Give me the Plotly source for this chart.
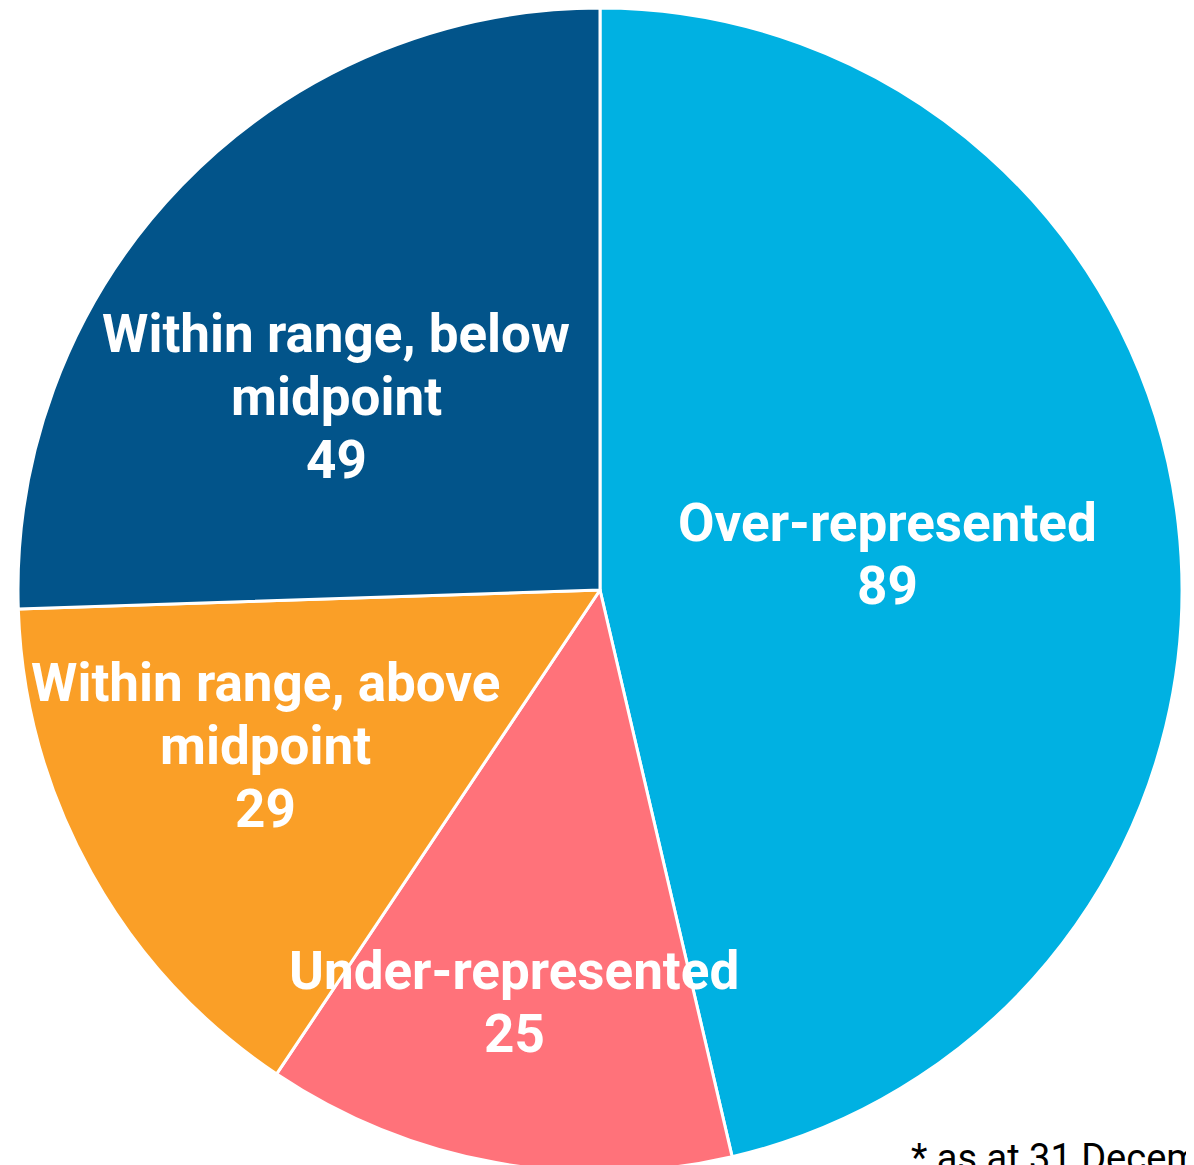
import math
import plotly.graph_objects as go

categories = ["Over-represented", "Under-represented", "Within range, above<br>midpoint", "Within range, below<br>midpoint"]
values = [89, 25, 29, 49]
colors = ["#00B1E2", "#FF727A", "#FA9F27", "#02548A"]
footnote = "* as at 31 December"

# label placement (style): radial fraction and angular offset (deg)
label_r = [0.497, 0.727, 0.635, 0.559]
label_dtheta = [0.0, 1.4, 3.8, -8.2]
LINE_GAP = 63
FONT = 53

W, H = 1194, 1165
R = 582
CX, CY = 592, 582  # paper px (page body has 8px margin)
dom_x = [(CX - R) / W, (CX + R) / W]
dom_y = [max(0.0, 1 - (CY + R) / H), 1 - (CY - R) / H]

fig = go.Figure(go.Pie(
    labels=categories, values=values, sort=False, direction="clockwise", rotation=0,
    marker=dict(colors=colors, line=dict(color="white", width=3)),
    textinfo="none", hoverinfo="label+value", showlegend=False,
    domain=dict(x=dom_x, y=dom_y),
))

total = sum(values)
cum = 0
for cat, v, f, dt in zip(categories, values, label_r, label_dtheta):
    mid = (cum + v / 2) / total * 360 + dt
    cum += v
    th = math.radians(mid)
    px = CX + f * R * math.sin(th)
    py = (CY - 2) - f * R * math.cos(th)
    lines = cat.split("<br>") + [str(v)]
    n = len(lines)
    for i, ln in enumerate(lines):
        ly = py + (i - (n - 1) / 2) * LINE_GAP
        fig.add_annotation(
            x=px / W, y=1 - ly / H, xref="paper", yref="paper",
            text=f"<b>{ln}</b>", showarrow=False,
            xanchor="center", yanchor="middle", align="center",
            font=dict(family="Roboto", size=FONT, color="white"),
        )

fig.add_annotation(
    x=901 / W, y=1 - 1150 / H, xref="paper", yref="paper",
    text=footnote, showarrow=False, xanchor="left", yanchor="middle",
    font=dict(family="Roboto", size=38, color="black"),
)

fig.update_layout(
    width=W, height=H, margin=dict(l=0, r=0, t=0, b=0),
    paper_bgcolor="white", plot_bgcolor="white",
)
fig.write_html("out.html")
